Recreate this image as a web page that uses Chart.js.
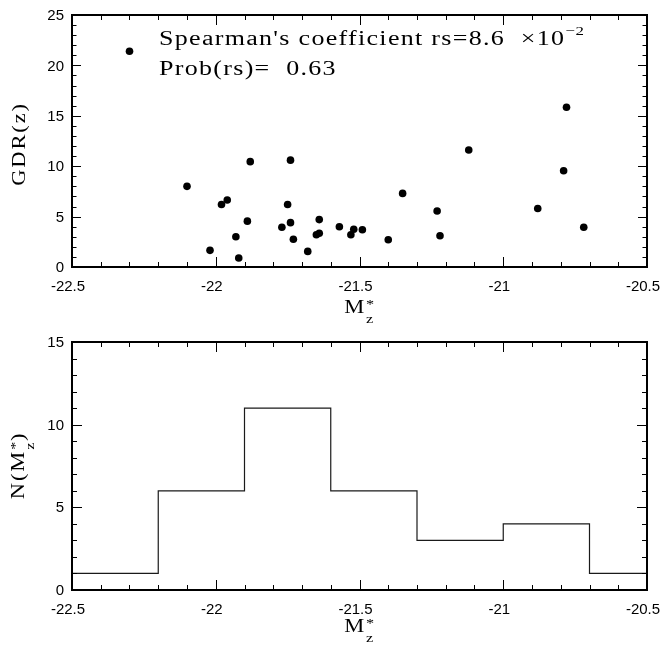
<!DOCTYPE html>
<html>
<head>
<meta charset="utf-8">
<script src="https://cdn.jsdelivr.net/npm/chart.js@4.4.1/dist/chart.umd.min.js"></script>
<style>
  body { margin: 0; background: #fff; }
  canvas { position: absolute; left: 0; }
  #gdrChart { top: 0; }
  #histChart { top: 330px; }
</style>
</head>
<body>
<canvas id="gdrChart" width="663" height="330"></canvas>
<canvas id="histChart" width="663" height="318"></canvas>
<script>
// Absolute magnitude M*_z of each galaxy and its GDR(z)
const magZ = [
  -22.30, -22.10, -22.02, -21.98, -21.96, -21.93, -21.92, -21.89, -21.88, -21.77,
  -21.75, -21.74, -21.74, -21.73, -21.68, -21.65, -21.64, -21.64, -21.57, -21.53,
  -21.52, -21.49, -21.40, -21.35, -21.23, -21.22, -21.12, -20.88, -20.79, -20.78,
  -20.72,
];
const gdr = [
  21.4, 8.0, 1.65, 6.2, 6.65, 3.0, 0.9, 4.55, 10.45, 3.95,
  6.2, 10.6, 4.4, 2.75, 1.55, 3.2, 3.35, 4.7, 4.0, 3.2,
  3.75, 3.7, 2.7, 7.3, 5.55, 3.1, 11.6, 5.8, 9.55, 15.85,
  3.95,
];

// Histogram of M*_z
const binEdges = [-22.5, -22.2, -21.9, -21.6, -21.3, -21.0, -20.7, -20.5];
const binCounts = [1, 6, 11, 6, 3, 4, 1];

// Tick values and labels
const xTicks = [-22.5, -22, -21.5, -21, -20.5];
const xTickLabels = ["-22.5", "-22", "-21.5", "-21", "-20.5"];
const gdrTicks = [0, 5, 10, 15, 20, 25];
const countTicks = [0, 5, 10, 15];

const SERIF = "'Liberation Serif', 'Times New Roman', serif";
const SANS = "'Liberation Sans', Arial, Helvetica, sans-serif";

// draw a string made of pieces (sub/superscripts), wide PGPLOT-like lettering
function drawRich(ctx, pieces, x, y, angle, align, stretch) {
  ctx.save();
  ctx.translate(x, y);
  ctx.rotate(angle || 0);
  ctx.scale(stretch || 1.25, 1);
  ctx.fillStyle = "#000";
  ctx.textAlign = "left";
  ctx.textBaseline = "alphabetic";
  const setFont = (p) => {
    ctx.font = p.size + "px " + SERIF;
    ctx.letterSpacing = (p.gap ?? 1.5) + "px";
  };
  let cursor = 0;
  let held = 0;
  const placed = pieces.map((p) => {
    setFont(p);
    const w = ctx.measureText(p.text).width;
    const at = cursor;
    if (p.hold) {
      held = w;
    } else {
      cursor += Math.max(w, held);
      held = 0;
    }
    return { p, at };
  });
  const start = align === "center" ? -cursor / 2 : 0;
  placed.forEach(({ p, at }) => {
    setFont(p);
    ctx.fillText(p.text, start + at, p.dy || 0);
  });
  ctx.restore();
}

const isMajor = (v, ticks) => ticks.some((t) => Math.abs(t - v) < 1e-6);

// frame with inward ticks on all four sides, tick labels and titles
const pgFrame = {
  id: "pgFrame",
  afterDraw(chart, args, o) {
    const { ctx, chartArea: a } = chart;
    const xs = chart.scales.x;
    const ys = chart.scales.y;
    ctx.save();
    ctx.strokeStyle = "#000";
    ctx.lineWidth = 1;
    ctx.beginPath();
    const nx = Math.round((xs.max - xs.min) / o.xMinor);
    for (let i = 1; i < nx; i++) {
      const v = xs.min + i * o.xMinor;
      const len = isMajor(v, xTicks) ? o.xMajorLen : o.xMinorLen;
      const px = Math.round(xs.getPixelForValue(v)) + 0.5;
      ctx.moveTo(px, a.bottom);
      ctx.lineTo(px, a.bottom - len);
      ctx.moveTo(px, a.top);
      ctx.lineTo(px, a.top + len);
    }
    const ny = Math.round((ys.max - ys.min) / o.yMinor);
    for (let i = 1; i < ny; i++) {
      const v = ys.min + i * o.yMinor;
      const len = isMajor(v, o.yTicks) ? o.yMajorLen : o.yMinorLen;
      const py = Math.round(ys.getPixelForValue(v)) + 0.5;
      ctx.moveTo(a.left, py);
      ctx.lineTo(a.left + len, py);
      ctx.moveTo(a.right, py);
      ctx.lineTo(a.right - len, py);
    }
    ctx.stroke();
    ctx.lineWidth = 2;
    ctx.strokeRect(a.left, a.top, a.right - a.left, a.bottom - a.top);

    ctx.fillStyle = "#000";
    ctx.font = "15px " + SANS;
    ctx.textAlign = "center";
    ctx.textBaseline = "middle";
    xTicks.forEach((v, i) => {
      ctx.fillText(xTickLabels[i], xs.getPixelForValue(v) - 4, a.bottom + 20);
    });
    ctx.textAlign = "right";
    o.yTicks.forEach((v) => {
      ctx.fillText(String(v), a.left - 8, ys.getPixelForValue(v) + 1);
    });
    ctx.restore();

    o.titles.forEach((t) =>
      drawRich(ctx, t.pieces, t.x, t.y, t.angle, t.align, t.stretch)
    );
  },
};

const mzPieces = [
  { text: "M", size: 18 },
  { text: "*", size: 13, dy: -5, gap: 0.5, hold: true },
  { text: "z", size: 13, dy: 10, gap: 0.5 },
];

// Top: GDR(z) vs M*_z
new Chart(document.getElementById("gdrChart"), {
  type: "scatter",
  data: {
    datasets: [
      {
        data: magZ.map((m, i) => ({ x: m, y: gdr[i] })),
        backgroundColor: "#000",
        borderWidth: 0,
        pointRadius: 3.8,
        pointHoverRadius: 3.8,
      },
    ],
  },
  options: {
    responsive: false,
    animation: false,
    layout: { padding: { left: 72, right: 16, top: 15, bottom: 63 } },
    scales: {
      x: { type: "linear", display: false, min: -22.5, max: -20.5 },
      y: { type: "linear", display: false, min: 0, max: 25 },
    },
    plugins: {
      legend: { display: false },
      tooltip: { enabled: false },
      pgFrame: {
        xMinor: 0.1, xMajorLen: 10, xMinorLen: 5,
        yMinor: 1, yMajorLen: 9, yMinorLen: 4.5,
        yTicks: gdrTicks,
        titles: [
          { pieces: mzPieces, x: 359.5, y: 313, align: "center" },
          {
            pieces: [{ text: "GDR(z)", size: 18 }],
            x: 25, y: 144, angle: -Math.PI / 2, align: "center",
          },
          {
            pieces: [
              { text: "Spearman's coefficient rs=8.6  \u00d710", size: 20, gap: 1 },
              { text: "\u22122", size: 13, dy: -10, gap: 0.5 },
            ],
            x: 159, y: 45, stretch: 1.3,
          },
          {
            pieces: [{ text: "Prob(rs)=  0.63", size: 20, gap: 1 }],
            x: 159, y: 75, stretch: 1.3,
          },
        ],
      },
    },
  },
  plugins: [pgFrame],
});

// Bottom: histogram N(M*_z)
new Chart(document.getElementById("histChart"), {
  type: "scatter",
  data: {
    datasets: [
      {
        data: binEdges.map((e, i) => ({
          x: e,
          y: binCounts[Math.min(i, binCounts.length - 1)],
        })),
        showLine: true,
        stepped: "before",
        borderColor: "#1a1a1a",
        borderWidth: 1.2,
        pointRadius: 0,
        fill: false,
      },
    ],
  },
  options: {
    responsive: false,
    animation: false,
    layout: { padding: { left: 72, right: 16, top: 12, bottom: 58 } },
    scales: {
      x: { type: "linear", display: false, min: -22.5, max: -20.5 },
      y: { type: "linear", display: false, min: 0, max: 15 },
    },
    plugins: {
      legend: { display: false },
      tooltip: { enabled: false },
      pgFrame: {
        xMinor: 0.1, xMajorLen: 10, xMinorLen: 5,
        yMinor: 1, yMajorLen: 10, yMinorLen: 5,
        yTicks: countTicks,
        titles: [
          { pieces: mzPieces, x: 359.5, y: 302, align: "center" },
          {
            pieces: [
              { text: "N(", size: 18 },
              { text: "M", size: 18 },
              { text: "*", size: 13, dy: -5, gap: 0.5, hold: true },
              { text: "z", size: 13, dy: 10, gap: 0.5 },
              { text: ")", size: 18 },
            ],
            x: 24, y: 135.5, angle: -Math.PI / 2, align: "center",
          },
        ],
      },
    },
  },
  plugins: [pgFrame],
});
</script>
</body>
</html>
